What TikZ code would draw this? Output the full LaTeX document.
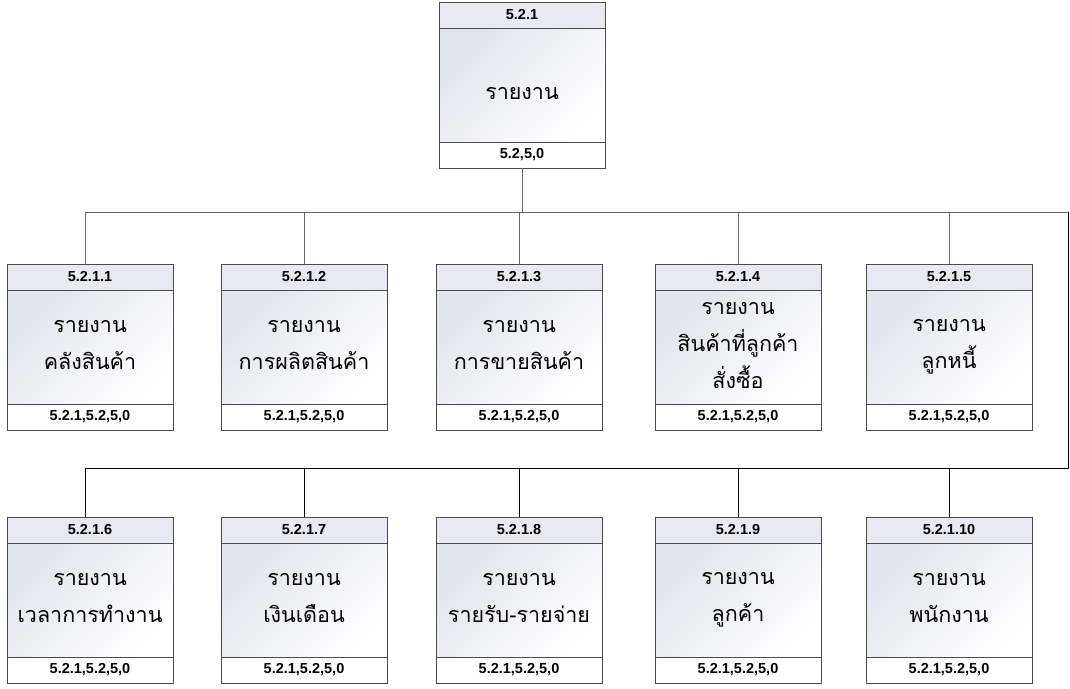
\documentclass[tikz,border=0pt]{standalone}
\usepackage{fontspec}
\setmainfont{Liberation Sans}
\newfontfamily\thaifont[Script=Thai]{Loma}
\usetikzlibrary{positioning}
\definecolor{headfill}{HTML}{E8E9F2}
\definecolor{bodytop}{HTML}{E2E4EE}
\def\thaistrut{\rule[-3.75pt]{0pt}{37pt}}
\tikzset{
	cell/.style={draw=black!70, line width=0.9pt, minimum width=166pt, inner sep=0pt, outer sep=0pt},
	headcell/.style={cell, minimum height=26pt, fill=headfill, font=\bfseries\fontsize{14.5}{16}\selectfont},
	bodycell/.style={cell, minimum height=114pt, top color=bodytop, bottom color=white, shading angle=45, align=center, font=\thaifont\fontsize{21.5}{37}\selectfont, execute at begin node=\thaistrut, execute at end node=\thaistrut},
	footcell/.style={cell, minimum height=26pt, fill=white, font=\bfseries\fontsize{14.5}{16}\selectfont},
	link/.style={draw=black!60, line width=0.9pt},
	linkdark/.style={draw=black, line width=0.9pt}
}
\def\repbox(#1)(#2,#3)#4#5#6{%
	\node[headcell, anchor=north west] (#1-head) at (#2,#3) {#4};
	\node[bodycell, below=0pt of #1-head] (#1) {#5};
	\node[footcell, below=0pt of #1] (#1-foot) {#6};
}

\begin{document}
\begin{tikzpicture}[x=1pt, y=-1pt]
		%%%%% START %%%%%
		\useasboundingbox (0,0) rectangle (1070,688);
		
		\repbox(top)(439,2){5.2.1}{รายงาน}{5.2,5,0}
		
		\repbox(c1)(7,264){5.2.1.1}{รายงาน\\คลังสินค้า}{5.2.1,5.2,5,0}
		\repbox(c2)(221,264){5.2.1.2}{รายงาน\\การผลิตสินค้า}{5.2.1,5.2,5,0}
		\repbox(c3)(436,264){5.2.1.3}{รายงาน\\การขายสินค้า}{5.2.1,5.2,5,0}
		\repbox(c4)(655,264){5.2.1.4}{รายงาน\\สินค้าที่ลูกค้า\\สั่งซื้อ}{5.2.1,5.2,5,0}
		\repbox(c5)(866,264){5.2.1.5}{รายงาน\\ลูกหนี้}{5.2.1,5.2,5,0}
		
		\repbox(c6)(7,517){5.2.1.6}{รายงาน\\เวลาการทำงาน}{5.2.1,5.2,5,0}
		\repbox(c7)(221,517){5.2.1.7}{รายงาน\\เงินเดือน}{5.2.1,5.2,5,0}
		\repbox(c8)(436,517){5.2.1.8}{รายงาน\\รายรับ-รายจ่าย}{5.2.1,5.2,5,0}
		\repbox(c9)(655,517){5.2.1.9}{รายงาน\\ลูกค้า}{5.2.1,5.2,5,0}
		\repbox(c10)(866,517){5.2.1.10}{รายงาน\\พนักงาน}{5.2.1,5.2,5,0}
		
		\coordinate (busA) at (0,212);
		\coordinate (busB) at (0,468);
		\coordinate (turn) at (1068,340);
		
		\draw[link] (top-foot.south) -- (top-foot.south |- busA);
		\draw[link] ([xshift=-5pt]c1-head.north |- busA) -- (turn |- busA);
		\draw[linkdark] (turn |- busA) -- (turn |- busB) -- ([xshift=-5pt]c6-head.north |- busB);
		\draw[link] ([xshift=-5pt]c1-head.north) -- ([xshift=-5pt]c1-head.north |- busA);
		\draw[linkdark] ([xshift=-5pt]c6-head.north) -- ([xshift=-5pt]c6-head.north |- busB);
		\foreach \n in {2,...,5}
			\draw[link] (c\n-head.north) -- (c\n-head.north |- busA);
		\foreach \n in {7,...,10}
			\draw[linkdark] (c\n-head.north) -- (c\n-head.north |- busB);
		
		%%%%% END %%%%%
\end{tikzpicture}
\end{document}
